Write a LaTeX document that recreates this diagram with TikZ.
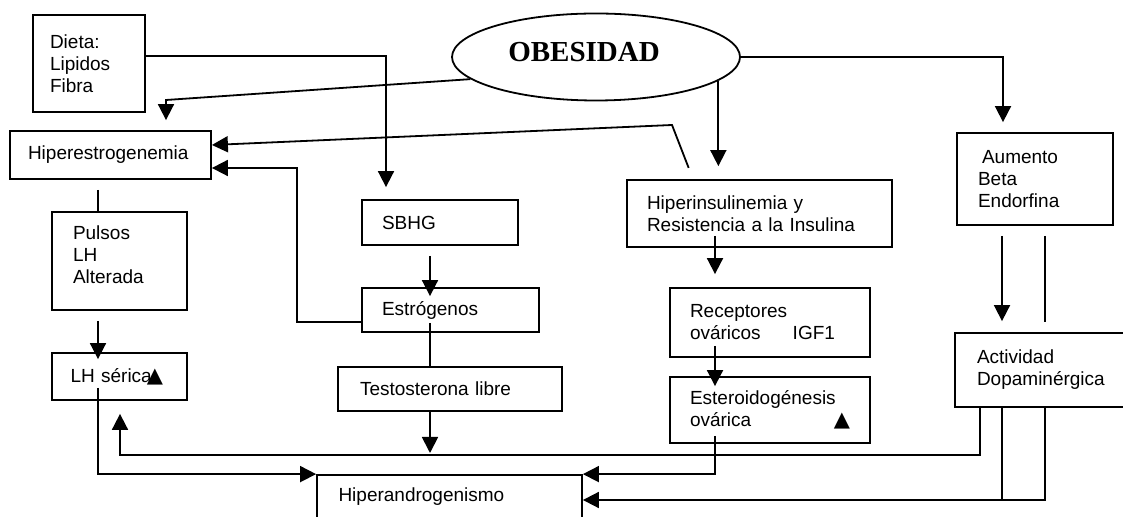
\documentclass[tikz,border=0pt]{standalone}
\usepackage{fontspec}
\setmainfont{Liberation Sans}
\newfontfamily\obesfont{Liberation Serif}
\newfontfamily\symfont{DejaVu Sans}
\usetikzlibrary{arrows.meta,shapes.geometric}
\begin{document}
\begin{tikzpicture}[x=0.5pt,y=-0.5pt,
  line width=0.9pt,
  box/.style={draw, rectangle, align=left, inner xsep=0pt, inner ysep=0pt,
    font=\fontsize{9.5}{11}\selectfont},
  arr/.style={-{Triangle[width=8pt,length=8pt]}},
  oval/.style={draw, ellipse, inner sep=0pt},
  ovaltext/.style={inner sep=0pt, font=\obesfont\bfseries\fontsize{14.5}{16}\selectfont}]
\useasboundingbox (0,0) rectangle (1123,517);

% nodes
\node[oval, minimum width=144pt, minimum height=43.5pt] (obes) at (596,57) {};
\node[ovaltext] (obestxt) at (584,52) {OBESIDAD};
\node[box, minimum width=56pt, minimum height=48.5pt, text width=39pt] (dieta) at (89,63.5) {Dieta:\\Lipidos\\Fibra};
\node[box, minimum width=100.5pt, minimum height=24pt, text width=82.5pt] (hiperE) at (110.5,155) {Hiperestrogenemia};
\node[box, minimum width=67.5pt, minimum height=49pt, text width=46.5pt] (pulsos) at (119.5,261) {Pulsos\\LH\\Alterada\vspace{6pt}};
\node[box, minimum width=67.5pt, minimum height=23.5pt, text width=49pt] (lh) at (119.5,376.5) {LH s\'erica\hspace{-2.5pt}{\symfont\fontsize{10.5}{10}\selectfont ▲}};
\node[box, minimum width=78pt, minimum height=22.5pt, text width=58pt] (sbhg) at (440,222.5) {SBHG};
\node[box, minimum width=88.5pt, minimum height=22pt, text width=68.5pt] (estr) at (450.5,310) {Estr\'ogenos};
\node[box, minimum width=112pt, minimum height=22pt, text width=90pt] (testo) at (450,389) {Testosterona libre};
\node[box, minimum width=132.5pt, minimum height=33.5pt, text width=112.5pt] (hiperI) at (759.5,213.5) {Hiperinsulinemia y\\Resistencia a la Insulina};
\node[box, minimum width=100pt, minimum height=34.5pt, text width=80pt] (recep) at (770,322.5) {Receptores\\ov\'aricos\hspace{16pt}IGF1};
\node[box, minimum width=100pt, minimum height=33pt, text width=80pt] (ester) at (770,410) {Esteroidog\'enesis\\ov\'arica\hfill{\symfont\fontsize{10.5}{10}\selectfont ▲}\hspace{1pt}};
\node[box, minimum width=78pt, minimum height=46pt, text width=57pt] (aumento) at (1035,179) {\hspace{2pt}Aumento\\Beta\\Endorfina};
\node[box, minimum width=86.5pt, minimum height=37pt, text width=64.5pt] (activ) at (1041.5,370) {Actividad\\Dopamin\'ergica};
\node[box, minimum width=132.5pt, minimum height=25pt, text width=111pt] (hiperA) at (449.5,500) {Hiperandrogenismo\vspace{3pt}};

\coordinate (j1) at (430,455);

% connectors
\draw[arr, shorten >=6pt] (dieta.east |- 0,56) -| (sbhg.north -| 386,0);
\draw[arr, shorten >=5pt] (obes.190) -- (166,100) -- (hiperE.north -| 166,0);
\draw[arr, shorten <=6pt] (hiperI.north -| 693,0) -- (672,125) -- (hiperE.east |- 0,145);
\draw[arr, shorten >=6.5pt] (obes.349) -- (obes.349 |- hiperI.north);
\draw[arr, shorten >=5pt] (obes.east) -| (aumento.north -| 1003,0);
\draw[arr, shorten <=5pt, shorten >=5.5pt] (aumento.south -| 1002,0) -- (activ.north -| 1002,0);
\draw[shorten <=5pt, shorten >=5pt] (aumento.south -| 1045,0) -- (activ.north -| 1045,0);
\draw[arr, shorten >=6.5pt] (activ.south -| 980,0) |- (120,455) -- (lh.south -| 120,0);
\draw (activ.south -| 1002,0) -- (1002,500);
\draw[arr] (activ.south -| 1045,0) |- (hiperA.east |- 0,500);
\draw[arr, shorten <=-4pt] (ester.south -| 715,0) |- (hiperA.north east);
\draw[arr, shorten <=-6pt, shorten >=6.5pt] (hiperI.south -| 715,0) -- (recep.north -| 715,0);
\draw[arr, shorten <=-6pt, shorten >=-5pt] (recep.south -| 715,0) -- (ester.north -| 715,0);
\draw[arr, shorten <=5pt, shorten >=-4.5pt] (sbhg.south -| 430,0) -- (estr.north -| 430,0);
\draw[shorten <=-5pt] (estr.south -| 430,0) -- (testo.north -| 430,0);
\draw[arr] (estr.west |- 0,322) -| (297,168) -- (hiperE.east |- 0,168);
\draw[arr, shorten >=1pt] (testo.south -| 430,0) -- (j1);
\draw[shorten <=5pt] (hiperE.south -| 98,0) -- (pulsos.north -| 98,0);
\draw[arr, shorten <=5pt, shorten >=-3.5pt] (pulsos.south -| 98,0) -- (lh.north -| 98,0);
\draw[arr, shorten <=-6.5pt] (lh.south -| 98,0) |- (hiperA.north west);
\end{tikzpicture}
\end{document}
